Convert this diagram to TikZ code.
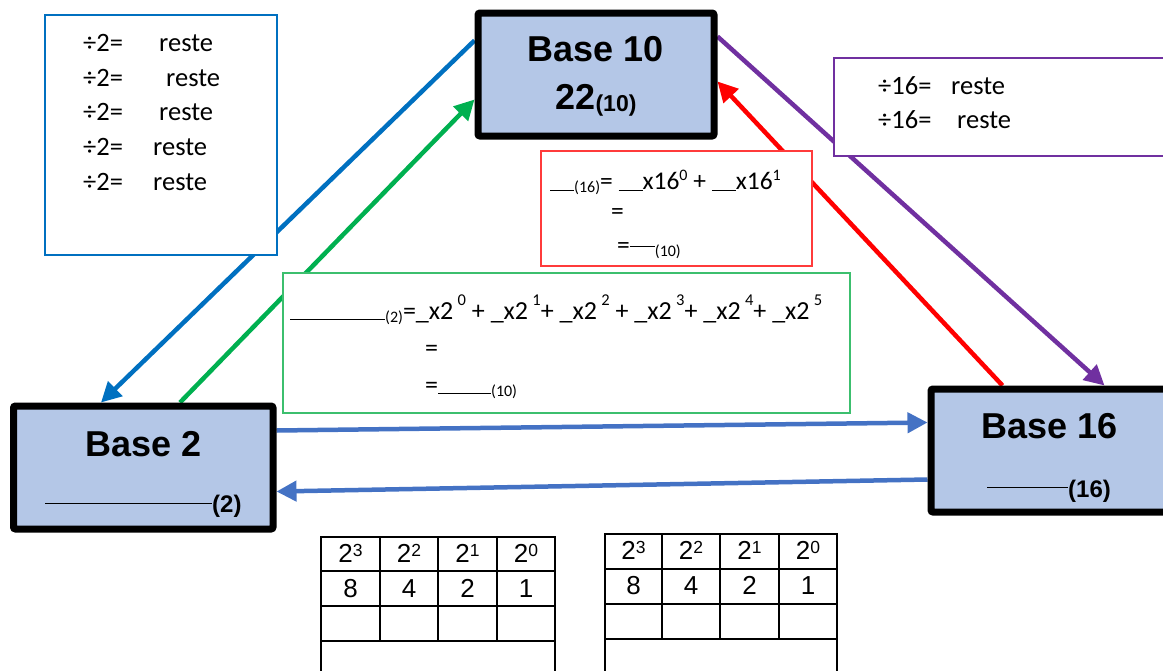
\documentclass[tikz,border=0pt]{standalone}
\usepackage{fontspec}
\setmainfont{Carlito}
\newfontfamily\arialf{Liberation Sans}
\usetikzlibrary{arrows.meta}
\pgfdeclarelayer{bg}
\pgfsetlayers{bg,main}
\definecolor{dblue}{HTML}{0070C0}
\definecolor{mblue}{HTML}{4472C4}
\definecolor{dgreen}{HTML}{00B050}
\definecolor{lgreen}{HTML}{3CBF6E}
\definecolor{dpurple}{HTML}{7030A0}
\definecolor{dred}{HTML}{FF0000}
\definecolor{lred}{HTML}{FF3B3B}
\definecolor{boxfill}{HTML}{B4C7E7}
\newcommand\mysub[1]{\raisebox{-3pt}{\fontsize{16}{16}\selectfont #1}}
\newcommand\mysup[1]{\raisebox{9pt}{\fontsize{16}{16}\selectfont #1}}
\newcommand\hsup[1]{\,\raisebox{14pt}{\fontsize{16.5}{16.5}\selectfont #1}}
\newcommand\tsup[1]{\raisebox{6pt}{\fontsize{17.5}{17.5}\selectfont #1}}
\begin{document}
\begin{tikzpicture}[x=1pt,y=-1pt,
  basebox/.style={draw=black, line width=7pt, fill=boxfill, rounded corners=2pt, inner sep=0pt},
  notebox/.style={fill=white, line width=1.3pt, inner sep=0pt},
  blbl/.style={font=\arialf\bfseries\fontsize{36}{42}\selectfont, inner sep=0pt, anchor=base},
  bsub/.style={font=\arialf\bfseries\fontsize{24}{28}\selectfont, inner sep=0pt, anchor=base west},
  txt/.style={font=\fontsize{26.5}{31}\selectfont, inner sep=0pt, anchor=base west},
  eqt/.style={font=\fontsize{25.5}{30}\selectfont, inner sep=0pt, anchor=base west},
  geqt/.style={font=\fontsize{26}{30}\selectfont, inner sep=0pt, anchor=base west},
  tabt/.style={font=\arialf\fontsize{26}{30}\selectfont, inner sep=0pt, anchor=base},
  tabl/.style={line width=1.5pt, black},
  arr/.style={line width=4.5pt, -{Triangle[length=20pt,width=20pt]}}]
\useasboundingbox (0,0) rectangle (1163,670);
\clip (0,0) rectangle (1163,670);

% base boxes
\node[basebox, minimum width=236pt, minimum height=123pt] (b10) at (596,74.5) {};
\node[basebox, minimum width=259.5pt, minimum height=123pt] (b2) at (143.25,467.5) {};
\node[basebox, minimum width=238pt, minimum height=123pt] (b16) at (1050,450.5) {};

\node[blbl] (t10a) at (596,61) {Base 10};
\node[blbl] (t10b) at (596,109) {22\raisebox{-2pt}{\fontsize{23}{23}\selectfont(10)}};
\node[blbl] (t2a) at (144,456) {Base 2};
\node[bsub] (t2b) at (45,512) {\rule[8pt]{167pt}{1.3pt}(2)};
\node[blbl] (t16a) at (1050,438) {Base 16};
\node[bsub] (t16b) at (987,497) {\rule[9pt]{81pt}{1.3pt}(16)};

% note boxes
\node[notebox, draw=dblue, minimum width=232pt, minimum height=240pt] (nb2) at (161,135) {};
\node[notebox, draw=dpurple, minimum width=340pt, minimum height=98pt] (nb16) at (1004,107) {};
\node[notebox, draw=lred, minimum width=271pt, minimum height=115pt] (nr) at (676.5,208.5) {};
\node[notebox, draw=lgreen, minimum width=567pt, minimum height=140pt] (ng) at (566.5,343) {};

% blue box text
\node[txt] (d1) at (83,51) {÷2=};
\node[txt] (r1) at (159,51) {reste};
\node[txt] (d2) at (83,86) {÷2=};
\node[txt] (r2) at (166,86) {reste};
\node[txt] (d3) at (83,120) {÷2=};
\node[txt] (r3) at (159,120) {reste};
\node[txt] (d4) at (83,155) {÷2=};
\node[txt] (r4) at (153,155) {reste};
\node[txt] (d5) at (83,190) {÷2=};
\node[txt] (r5) at (153,190) {reste};

% purple box text
\node[txt] (e1) at (878,94) {÷16=};
\node[txt] (s1) at (951,94) {reste};
\node[txt] (e2) at (878,128) {÷16=};
\node[txt] (s2) at (957,128) {reste};

% red box text
\node[eqt] (rl1) at (550,189) {\rule[-2pt]{24pt}{1pt}\mysub{(16)}= \rule[-2pt]{24pt}{1pt}x16\mysup{0} + \rule[-2pt]{24pt}{1pt}x16\mysup{1}};
\node[eqt] (rl2) at (611,219) {=};
\node[eqt] (rl3) at (617,253) {=\rule[6pt]{25pt}{0.8pt}\mysub{(10)}};

% green box text
\node[geqt] (gl1) at (290,319) {\rule[-1pt]{95pt}{1pt}\mysub{(2)}=\_x2\hsup{0} + \_x2\hsup{1}+ \_x2\hsup{2} + \_x2\hsup{3}+ \_x2\hsup{4}+ \_x2\hsup{5}};
\node[geqt] (gl2) at (425,356) {=};
\node[geqt] (gl3) at (425,393) {=\rule[-1pt]{53pt}{1pt}\mysub{(10)}};

% arrows behind
\begin{pgfonlayer}{bg}
\draw[arr, dblue] ([yshift=-31pt]b10.north west) -- ([xshift=91pt]b2.north west);
\draw[arr, dgreen] ([xshift=170pt]b2.north west) -- ([yshift=-90pt]b10.north west);
\draw[arr, dpurple] ([yshift=-27pt]b10.north east) -- ([xshift=177pt]b16.north west);
\draw[arr, dred] ([xshift=75pt]b16.north west) -- ([yshift=-72pt]b10.north east);
\draw[arr, mblue] ([yshift=-28pt]b2.north east) -- ([yshift=-37pt]b16.north west);
\draw[arr, mblue] ([yshift=-94pt]b16.north west) -- ([yshift=-89pt]b2.north east);
\end{pgfonlayer}

% table 1
\draw[tabl] (321,680) -- (321,537) -- (555,537) -- (555,680);
\draw[tabl] (321,571) -- (555,571);
\draw[tabl] (321,606) -- (555,606);
\draw[tabl] (321,641) -- (555,641);
\foreach \x in {380,438,497} \draw[tabl] (\x,537) -- (\x,641);
\node[tabt] (a1) at (350.5,562) {2\tsup{3}};
\node[tabt] (a2) at (409,562) {2\tsup{2}};
\node[tabt] (a3) at (467.5,562) {2\tsup{1}};
\node[tabt] (a4) at (526,562) {2\tsup{0}};
\node[tabt] (a5) at (350.5,597) {8};
\node[tabt] (a6) at (409,597) {4};
\node[tabt] (a7) at (467.5,597) {2};
\node[tabt] (a8) at (526,597) {1};

% table 2
\draw[tabl] (605,680) -- (605,534) -- (837,534) -- (837,680);
\draw[tabl] (605,569) -- (837,569);
\draw[tabl] (605,604) -- (837,604);
\draw[tabl] (605,639) -- (837,639);
\foreach \x in {662,720,779} \draw[tabl] (\x,534) -- (\x,639);
\node[tabt] (c1) at (633.5,559) {2\tsup{3}};
\node[tabt] (c2) at (691,559) {2\tsup{2}};
\node[tabt] (c3) at (749.5,559) {2\tsup{1}};
\node[tabt] (c4) at (808,559) {2\tsup{0}};
\node[tabt] (c5) at (633.5,594) {8};
\node[tabt] (c6) at (691,594) {4};
\node[tabt] (c7) at (749.5,594) {2};
\node[tabt] (c8) at (808,594) {1};
\end{tikzpicture}
\end{document}
